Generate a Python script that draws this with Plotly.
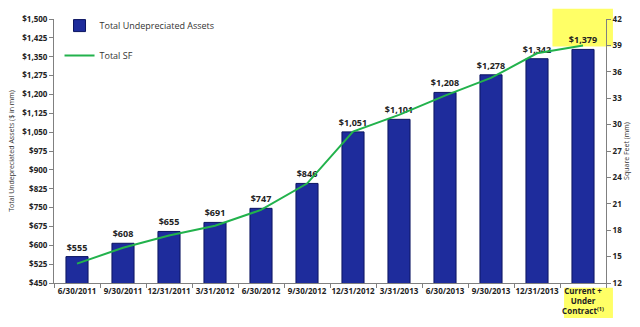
import plotly.graph_objects as go

categories = ["6/30/2011", "9/30/2011", "12/31/2011", "3/31/2012", "6/30/2012",
              "9/30/2012", "12/31/2012", "3/31/2013", "6/30/2013", "9/30/2013",
              "12/31/2013", "Current +<br>Under<br>Contract<sup>(1)</sup>"]
assets = [555, 608, 655, 691, 747, 846, 1051, 1101, 1208, 1278, 1342, 1379]
total_sf = [14.2, 16.0, 17.4, 18.5, 20.3, 23.3, 29.2, 31.1, 33.3, 35.3, 38.1, 39.0]

left_ticks = list(range(450, 1501, 75))
left_labels = ["${:,}".format(v) for v in left_ticks]
right_ticks = list(range(12, 43, 3))

FONT = "Open Sans"
fig = go.Figure()
fig.add_trace(go.Bar(
    x=categories, y=assets, name="Total Undepreciated Assets",
    marker=dict(color="#1E2C9C", line=dict(color="#0B1460", width=1)),
    texttemplate="$%{y:,}", textposition="outside", constraintext="none",
    textfont=dict(size=9, color="#222222", family=FONT, weight="bold"),
    cliponaxis=False, legendgroup="a",
))
fig.add_trace(go.Scatter(
    x=categories, y=total_sf, name="Total SF", mode="lines",
    line=dict(color="#22B24C", width=2), yaxis="y2", legendgroup="b",
))

fig.update_layout(
    width=640, height=327,
    margin=dict(l=53, r=31, t=11, b=37),
    paper_bgcolor="white", plot_bgcolor="rgba(0,0,0,0)",
    font=dict(family=FONT, color="#222222"),
    bargap=0.52,
    showlegend=True,
    legend=dict(x=0.01, y=1.03, xanchor="left", yanchor="top",
                bgcolor="rgba(0,0,0,0)", font=dict(size=9, color="#333333"),
                tracegroupgap=11, traceorder="grouped", itemwidth=30),
    xaxis=dict(type="category", showline=True, linecolor="#808080", linewidth=1,
               ticks="outside", tickson="boundaries", ticklen=4, tickcolor="#808080",
               tickfont=dict(size=8, weight="bold", color="#222222"),
               tickangle=0, showgrid=False),
    yaxis=dict(range=[450, 1500], tickvals=left_ticks, ticktext=left_labels,
               showline=True, linecolor="#808080", ticks="outside", ticklen=4,
               tickcolor="#808080", showgrid=False, zeroline=False,
               tickfont=dict(size=8, weight="bold", color="#222222"),
               title=dict(text="Total Undepreciated Assets ($ in mm)",
                          font=dict(size=7, color="#333333"), standoff=6)),
    yaxis2=dict(range=[12, 42], tickvals=right_ticks, overlaying="y", side="right",
                showline=True, linecolor="#808080", ticks="outside", ticklen=4,
                tickcolor="#808080", showgrid=False, zeroline=False,
                tickfont=dict(size=8, weight="bold", color="#222222"),
                title=dict(text="Square Feet (mm)", font=dict(size=7, color="#333333"),
                           standoff=2)),
    shapes=[
        dict(type="rect", xref="paper", yref="paper", x0=0.903, x1=1.0126,
             y0=0.896, y1=1.039, fillcolor="#FFFF66", line=dict(width=0), layer="below"),
        dict(type="rect", xref="paper", yref="paper", x0=0.924, x1=1.0126,
             y0=-0.133, y1=-0.018, fillcolor="#FFFF66", line=dict(width=0), layer="below"),
    ],
)

fig.write_html("out.html")
